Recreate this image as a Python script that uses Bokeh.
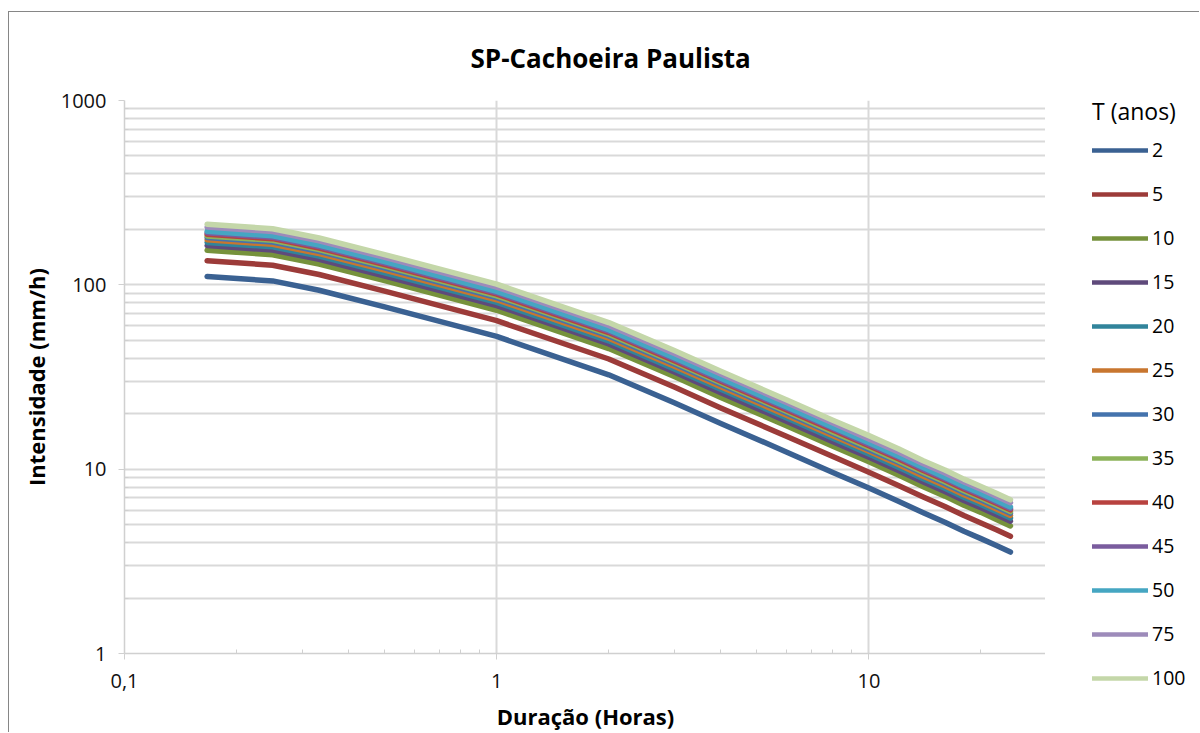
from bokeh.plotting import figure
from bokeh.models import FixedTicker, Legend, LegendItem, ColumnDataSource
from bokeh.layouts import row
from bokeh.embed import file_html
from bokeh.resources import INLINE

# ---- data ----
duracao_h = [0.1667, 0.25, 0.3333, 0.5, 1, 2, 3, 4, 6, 8, 10, 12, 14, 16, 18, 20, 22, 24]

T_labels = ["2", "5", "10", "15", "20", "25", "30", "35", "40", "45", "50", "75", "100"]

i_T2 = [111, 105, 93.5, 76, 52.5, 32.5, 22.9, 17.7, 12.4, 9.6, 7.9, 6.7, 5.8, 5.15, 4.6, 4.2, 3.85, 3.55]
i_T5 = [135.1, 127.8, 113.8, 92.5, 63.9, 39.6, 27.9, 21.5, 15.1, 11.7, 9.61, 8.15, 7.06, 6.27, 5.60, 5.11, 4.69, 4.32]
i_T10 = [154.0, 145.6, 129.7, 105.4, 72.8, 45.1, 31.8, 24.5, 17.2, 13.3, 10.96, 9.29, 8.04, 7.14, 6.38, 5.83, 5.34, 4.92]
i_T15 = [163.2, 154.4, 137.4, 111.7, 77.2, 47.8, 33.7, 26.0, 18.2, 14.1, 11.6, 9.85, 8.53, 7.57, 6.76, 6.17, 5.66, 5.22]
i_T20 = [169.8, 160.7, 143.1, 116.3, 80.3, 49.7, 35.0, 27.1, 19.0, 14.7, 12.1, 10.25, 8.87, 7.88, 7.04, 6.43, 5.89, 5.43]
i_T25 = [175.4, 165.9, 147.7, 120.1, 83.0, 51.4, 36.2, 28.0, 19.6, 15.2, 12.5, 10.6, 9.16, 8.14, 7.27, 6.64, 6.08, 5.61]
i_T30 = [180.4, 170.6, 151.9, 123.5, 85.3, 52.8, 37.2, 28.8, 20.2, 15.6, 12.8, 10.9, 9.43, 8.37, 7.48, 6.83, 6.26, 5.77]
i_T35 = [184.3, 174.3, 155.2, 126.2, 87.2, 54.0, 38.0, 29.4, 20.6, 15.9, 13.1, 11.1, 9.63, 8.55, 7.64, 6.97, 6.39, 5.89]
i_T40 = [188.1, 178.0, 158.5, 128.8, 89.0, 55.1, 38.8, 30.0, 21.0, 16.3, 13.4, 11.4, 9.83, 8.73, 7.80, 7.12, 6.53, 6.02]
i_T45 = [191.5, 181.1, 161.3, 131.1, 90.6, 56.1, 39.5, 30.5, 21.4, 16.6, 13.6, 11.6, 10.0, 8.88, 7.94, 7.25, 6.64, 6.12]
i_T50 = [195.0, 184.5, 164.3, 133.5, 92.2, 57.1, 40.2, 31.1, 21.8, 16.9, 13.9, 11.8, 10.2, 9.05, 8.08, 7.38, 6.76, 6.24]
i_T75 = [205.7, 194.6, 173.3, 140.8, 97.3, 60.2, 42.4, 32.8, 23.0, 17.8, 14.6, 12.4, 10.7, 9.54, 8.52, 7.78, 7.13, 6.58]
i_T100 = [213.1, 201.6, 179.5, 145.9, 100.8, 62.4, 44.0, 34.0, 23.8, 18.4, 15.2, 12.9, 11.1, 9.89, 8.83, 8.06, 7.39, 6.82]

series = [i_T2, i_T5, i_T10, i_T15, i_T20, i_T25, i_T30, i_T35, i_T40, i_T45, i_T50, i_T75, i_T100]

colors = ["#3A6192", "#9C3B39", "#76923C", "#5F4A7B", "#31849B", "#C8762F", "#4473AD",
          "#8DB35A", "#B8423F", "#7A5C9E", "#45A6C2", "#9D8BBA", "#C4D7A9"]

x_major = [0.1, 1, 10]
x_minor = [0.2, 0.3, 0.4, 0.5, 0.6, 0.7, 0.8, 0.9, 2, 3, 4, 5, 6, 7, 8, 9, 20]
x_labels = {0.1: "0,1", 1: "1", 10: "10"}
y_major = [1, 10, 100, 1000]
y_minor = [2, 3, 4, 5, 6, 7, 8, 9, 20, 30, 40, 50, 60, 70, 80, 90, 200, 300, 400, 500, 600, 700, 800, 900]

FONT = "Open Sans"
GRID = "#D9D9D9"
BORDER = "1px solid #868686"

p = figure(width=1037, height=721, x_axis_type="log", y_axis_type="log",
           x_range=(0.1, 30), y_range=(1, 1000),
           output_backend="svg", toolbar_location=None,
           title="SP-Cachoeira Paulista",
           min_border_left=115, min_border_right=0, min_border_top=85, min_border_bottom=74)
p.styles = {"border-left": BORDER, "border-top": BORDER}
p.outline_line_color = None
p.background_fill_color = "white"
p.border_fill_color = "white"

p.title.align = "left"
p.title.text_font = FONT
p.title.text_font_size = "26px"
p.title.text_font_style = "bold"
p.title.text_color = "#000000"
p.title.offset = 346
p.title.standoff = 50

# axes
xa = p.xaxis[0]
xa.ticker = FixedTicker(ticks=x_major, minor_ticks=x_minor)
xa.major_label_overrides = x_labels
ya = p.yaxis[0]
ya.ticker = FixedTicker(ticks=y_major, minor_ticks=y_minor)
ya.major_label_overrides = {1: "1", 10: "10", 100: "100", 1000: "1000"}

for ax in (xa, ya):
    ax.axis_line_color = "#D0D0D0"
    ax.axis_line_width = 1.5
    ax.major_tick_line_color = "#D0D0D0"
    ax.minor_tick_line_color = "#D0D0D0"
    ax.major_tick_in = 0
    ax.major_tick_out = 6
    ax.minor_tick_in = 4
    ax.minor_tick_out = 0
    ax.major_label_text_font = FONT
    ax.major_label_text_font_size = "20px"
    ax.major_label_text_color = "#111111"
    ax.axis_label_text_font = FONT
    ax.axis_label_text_font_size = "22px"
    ax.axis_label_text_font_style = "bold"
    ax.axis_label_text_color = "#000000"

xa.axis_label = "Duração (Horas)"
xa.major_label_standoff = 14
xa.axis_label_standoff = 10
ya.axis_label = "Intensidade (mm/h)"
ya.major_label_standoff = 12
ya.axis_label_standoff = 7

p.xgrid.grid_line_color = GRID
p.xgrid.grid_line_width = 2
p.ygrid.grid_line_color = GRID
p.ygrid.grid_line_width = 2
p.ygrid.minor_grid_line_color = GRID
p.ygrid.minor_grid_line_width = 2

# legend panel (separate figure to the right of the plot area)
pl = figure(width=154, height=721, output_backend="svg", toolbar_location=None,
            min_border=0, x_range=(0, 1), y_range=(0, 1))
pl.frame_align = False
pl.styles = {"border-top": BORDER}
pl.axis.visible = False
pl.grid.visible = False
pl.outline_line_color = None
pl.background_fill_color = "white"
pl.border_fill_color = "white"

items = []
for lab, vals, col in zip(T_labels, series, colors):
    src = ColumnDataSource(dict(x=duracao_h, y=vals))
    p.line("x", "y", source=src, line_color=col, line_width=5.5,
           line_cap="round", line_join="round")
    # same data, outside this panel's ranges: only its legend swatch shows
    r = pl.line("x", "y", source=src, line_color=col, line_width=4.5, line_cap="round")
    items.append(LegendItem(label=lab, renderers=[r]))

leg = Legend(items=items, location=(47, 42), orientation="vertical",
             title="T (anos)", title_text_font=FONT, title_text_font_size="23px",
             title_text_font_style="normal",
             title_text_color="#000000", title_standoff=9,
             label_text_font=FONT, label_text_font_size="19.5px", label_text_color="#000000",
             glyph_width=56, glyph_height=20, label_height=20, spacing=17,
             label_standoff=4, padding=4, margin=0,
             border_line_color=None, background_fill_alpha=0)
pl.add_layout(leg, "center")

layout = row(p, pl, margin=(11, 0, 0, 8))

open("out.html", "w").write(file_html(layout, INLINE))
